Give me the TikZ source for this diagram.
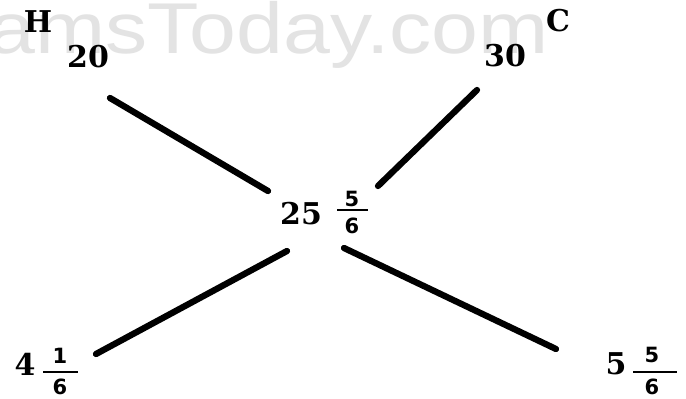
\documentclass[tikz,border=0pt]{standalone}
\usepackage{fontspec}
\setmainfont{DejaVu Serif}
\newfontfamily\wmfont{Liberation Sans}
\newfontfamily\fracfont{DejaVu Sans}
\begin{document}
\begin{tikzpicture}[x=1pt,y=-1pt,
  big/.style={inner sep=0pt,font=\fontsize{30}{30}\selectfont\bfseries},
  small/.style={inner sep=0pt,font=\fracfont\fontsize{21}{21}\selectfont\bfseries},
  bar/.style={line width=2.6pt},
  conn/.style={line width=6.3pt,line cap=round}]
\useasboundingbox (0,0) rectangle (686,399);
\fill[white] (0,0) rectangle (686,399);
% watermark
\node[anchor=base east,inner sep=0pt,text=black!11,xscale=1.17,
  font=\wmfont\fontsize{72}{72}\selectfont] (wm) at (549,53) {ExamsToday.com};
% labels
\node[big] (H) at (38,22) {H};
\node[big] (C) at (558,21) {C};
\node[big] (t20) at (88,57) {20};
\node[big] (t30) at (505,56) {30};
\node[big] (t25) at (301,214) {25};
\node[small] (n25) at (352,199) {5};
\node[small] (d25) at (352,226) {6};
\coordinate (b25a) at (337,210); \coordinate (b25b) at (368,210);
\draw[bar] (b25a) -- (b25b);
\node[big] (t4) at (25,364) {4};
\node[small] (n4) at (60,356) {1};
\node[small] (d4) at (60,387) {6};
\coordinate (b4a) at (43,372); \coordinate (b4b) at (78,372);
\draw[bar] (b4a) -- (b4b);
\node[big] (t5) at (616,364) {5};
\node[small] (n5) at (652,355) {5};
\node[small] (d5) at (652,387) {6};
\coordinate (b5a) at (633,372); \coordinate (b5b) at (677,372);
\draw[bar] (b5a) -- (b5b);
% connectors
\coordinate (l1a) at (110,98);  \coordinate (l1b) at (268,191);
\coordinate (l2a) at (477,90);  \coordinate (l2b) at (378,186);
\coordinate (l3a) at (287,251); \coordinate (l3b) at (96,354);
\coordinate (l4a) at (344,248); \coordinate (l4b) at (556,349);
\draw[conn] (l1a) -- (l1b);
\draw[conn] (l2a) -- (l2b);
\draw[conn] (l3a) -- (l3b);
\draw[conn] (l4a) -- (l4b);
\end{tikzpicture}
\end{document}
